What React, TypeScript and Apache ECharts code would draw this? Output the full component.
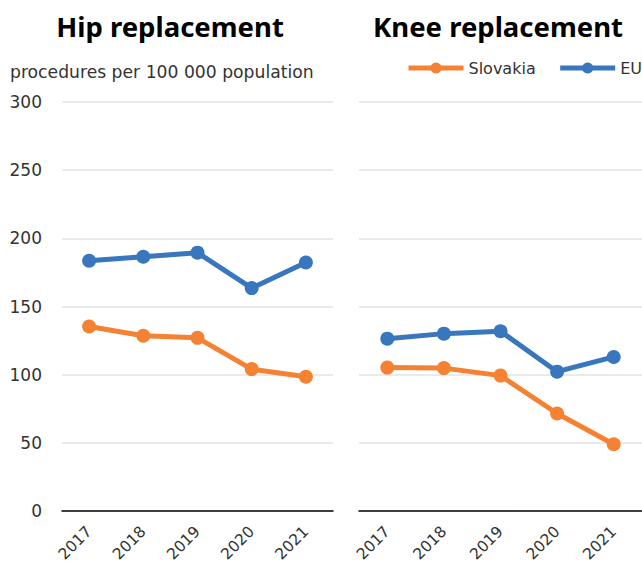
import React, { useEffect, useRef } from "react";
import * as echarts from "echarts";

const years = ["2017", "2018", "2019", "2020", "2021"];
const hipSlovakia = [135.3, 128.5, 127, 104.1, 98.5];
const hipEU = [183.6, 186.5, 189.5, 163.5, 182.3];
const kneeSlovakia = [105.2, 104.8, 99.3, 71.5, 49.0];
const kneeEU = [126.4, 130.1, 131.8, 102.2, 113.0];
const yTicks = { min: 0, max: 300, interval: 50 };

const ORANGE = "#f58233";
const BLUE = "#3876bd";
const TITLE_FONT = "'Noto Sans', sans-serif";
const FONT = "'DejaVu Sans', sans-serif";

export default function App() {
  const ref = useRef<HTMLDivElement>(null);
  useEffect(() => {
    if (!ref.current) return;
    const chart = echarts.init(ref.current, null, { renderer: "svg" });
    const lineSeries = (name: string, data: number[], color: string, idx: number) => ({
      type: "line",
      name,
      data,
      xAxisIndex: idx,
      yAxisIndex: idx,
      symbol: "circle",
      symbolSize: 14,
      lineStyle: { color, width: 5 },
      itemStyle: { color },
      z: name === "EU" ? 3 : 4,
    });
    const xAxis = (idx: number) => ({
      type: "category",
      gridIndex: idx,
      data: years,
      boundaryGap: true,
      axisLine: { show: true, lineStyle: { color: "#000", width: 1.5 } },
      axisTick: { show: false },
      axisLabel: { rotate: 45, fontSize: 15.5, color: "#333", fontFamily: FONT, margin: 18 },
    });
    const yAxis = (idx: number) => ({
      type: "value",
      gridIndex: idx,
      min: yTicks.min,
      max: yTicks.max,
      interval: yTicks.interval,
      axisLine: { show: false },
      axisTick: { show: false },
      axisLabel: { show: idx === 0, fontSize: 17, color: "#333", fontFamily: FONT, margin: 20 },
      splitLine: { show: true, showMinLine: false, lineStyle: { color: "#e3e3e3", width: 1.5 } },
    });
    chart.setOption({
      animation: false,
      textStyle: { fontFamily: FONT },
      title: [
        { text: "Hip replacement", left: 170, top: 12, padding: 0, textAlign: "center", textStyle: { fontSize: 27.5, fontWeight: "bold", color: "#000", fontFamily: TITLE_FONT } },
        { text: "Knee replacement", left: 498, top: 12, padding: 0, textAlign: "center", textStyle: { fontSize: 27.5, fontWeight: "bold", color: "#000", fontFamily: TITLE_FONT } },
        { text: "procedures per 100 000 population", left: 10, top: 63, padding: 0, textStyle: { fontSize: 17.2, fontWeight: "normal", color: "#333", fontFamily: FONT } },
      ],
      legend: {
        data: ["Slovakia", "EU"],
        orient: "horizontal",
        left: 406,
        top: 60,
        padding: 0,
        width: 400,
        itemWidth: 55,
        itemHeight: 14,
        itemGap: 22,
        lineStyle: { width: 5 },
        textStyle: { fontSize: 16, color: "#333", fontFamily: FONT },
      },
      grid: [
        { left: 62, top: 102, width: 271, height: 409, containLabel: false },
        { left: 359, top: 102, width: 295, height: 409, containLabel: false },
      ],
      xAxis: [xAxis(0), xAxis(1)],
      yAxis: [yAxis(0), yAxis(1)],
      series: [
        lineSeries("EU", hipEU, BLUE, 0),
        lineSeries("Slovakia", hipSlovakia, ORANGE, 0),
        lineSeries("EU", kneeEU, BLUE, 1),
        lineSeries("Slovakia", kneeSlovakia, ORANGE, 1),
      ],
    });
    return () => chart.dispose();
  }, []);
  return <div ref={ref} style={{ width: 642, height: 565, position: "absolute", left: 0, top: 0, background: "#fff" }} />;
}
